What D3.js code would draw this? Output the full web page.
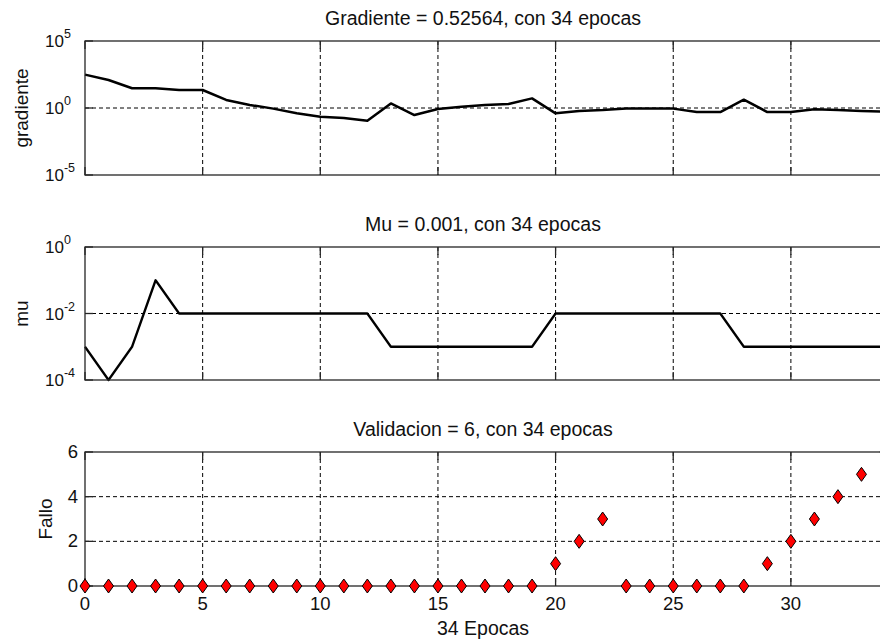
<!DOCTYPE html>
<html lang="es">
<head>
<meta charset="UTF-8">
<title>Entrenamiento - 34 epocas</title>
<script src="https://d3js.org/d3.v7.min.js"></script>
<style>
    body { margin: 0; background: #fff; }
    svg { display: block; }
    text { font-family: "Liberation Sans", Arial, sans-serif; fill: #111; }
</style>
</head>
<body>
<svg width="880" height="641"></svg>
<script>
// epochs 0..34
const epocas = [0,1,2,3,4,5,6,7,8,9,10,11,12,13,14,15,16,17,18,19,20,21,22,23,24,25,26,27,28,29,30,31,32,33,34];

// gradient per epoch (log axis)
const gradiente = [309, 123, 30, 30, 22, 22, 4.0, 1.7, 0.9, 0.4, 0.22, 0.18, 0.11, 2.2, 0.3,
    0.85, 1.25, 1.65, 2.0, 5.2, 0.4, 0.6, 0.7, 0.9, 0.9, 0.9, 0.5, 0.5, 4.2, 0.5,
    0.5, 0.8, 0.7, 0.6, 0.52564];

// mu per epoch (log axis)
const mu = [1e-3, 1e-4, 1e-3, 1e-1, 1e-2, 1e-2, 1e-2, 1e-2, 1e-2, 1e-2, 1e-2, 1e-2, 1e-2,
    1e-3, 1e-3, 1e-3, 1e-3, 1e-3, 1e-3, 1e-3, 1e-2, 1e-2, 1e-2, 1e-2, 1e-2, 1e-2, 1e-2, 1e-2,
    1e-3, 1e-3, 1e-3, 1e-3, 1e-3, 1e-3, 1e-3];

// validation fails per epoch
const fallo = [0,0,0,0,0,0,0,0,0,0,0,0,0,0,0,0,0,0,0,0,1,2,3,0,0,0,0,0,0,1,2,3,4,5,6];

const xTicks = [0, 5, 10, 15, 20, 25, 30];
const gradTicks = [-5, 0, 5];      // exponents
const muTicks = [-4, -2, 0];       // exponents
const falloTicks = [0, 2, 4, 6];

const titulos = ["Gradiente = 0.52564, con 34 epocas", "Mu = 0.001, con 34 epocas", "Validacion = 6, con 34 epocas"];
const etiquetasY = ["gradiente", "mu", "Fallo"];
const etiquetaX = "34 Epocas";

const svg = d3.select("svg");
const left = 85, right = 885;
const x = d3.scaleLinear().domain([0, 34]).range([left, right]);

const panels = [
    { top: 41, bottom: 175, y: d3.scaleLog().domain([1e-5, 1e5]), log: gradTicks, data: gradiente, lw: 2.5, labelX: 28 },
    { top: 247, bottom: 380, y: d3.scaleLog().domain([1e-4, 1]), log: muTicks, data: mu, lw: 2.3, labelX: 28 },
    { top: 452, bottom: 586, y: d3.scaleLinear().domain([0, 6]), lin: falloTicks, data: fallo, labelX: 52 }
];

const tickLen = 8;

panels.forEach((p, i) => {
    p.y.range([p.bottom, p.top]);
    const g = svg.append("g");
    const yVals = p.log ? p.log.map(e => Math.pow(10, e)) : p.lin;

    // grid
    g.selectAll(".gx").data(xTicks.filter(t => t > 0)).join("line")
        .attr("x1", d => x(d)).attr("x2", d => x(d))
        .attr("y1", p.top).attr("y2", p.bottom)
        .attr("stroke", "#000").attr("stroke-width", 1).attr("stroke-dasharray", "4,3");
    g.selectAll(".gy").data(yVals.filter(v => p.y(v) > p.top + 1 && p.y(v) < p.bottom - 1)).join("line")
        .attr("x1", left).attr("x2", right)
        .attr("y1", d => p.y(d)).attr("y2", d => p.y(d))
        .attr("stroke", "#000").attr("stroke-width", 1).attr("stroke-dasharray", "4,3");

    // tick marks (inside, all sides)
    xTicks.forEach(t => {
        g.append("line").attr("x1", x(t)).attr("x2", x(t)).attr("y1", p.bottom).attr("y2", p.bottom - tickLen)
            .attr("stroke", "#262626").attr("stroke-width", 1.3);
        g.append("line").attr("x1", x(t)).attr("x2", x(t)).attr("y1", p.top).attr("y2", p.top + tickLen)
            .attr("stroke", "#262626").attr("stroke-width", 1.3);
    });
    yVals.forEach(v => {
        g.append("line").attr("x1", left).attr("x2", left + tickLen).attr("y1", p.y(v)).attr("y2", p.y(v))
            .attr("stroke", "#262626").attr("stroke-width", 1.3);
    });

    // data
    if (i < 2) {
        g.append("path")
            .datum(epocas.map((e, k) => [e, p.data[k]]))
            .attr("fill", "none").attr("stroke", "#000").attr("stroke-width", p.lw)
            .attr("stroke-linejoin", "round")
            .attr("d", d3.line().x(d => x(d[0])).y(d => p.y(d[1])));
    }

    // box
    g.append("rect").attr("x", left).attr("y", p.top)
        .attr("width", right - left).attr("height", p.bottom - p.top)
        .attr("fill", "none").attr("stroke", "#262626").attr("stroke-width", 1.3);

    if (i === 2) {
        g.selectAll(".mk").data(epocas.map((e, k) => [e, p.data[k]])).join("path")
            .attr("transform", d => `translate(${x(d[0])},${p.y(d[1])})`)
            .attr("d", "M0,-7L5,0L0,7L-5,0Z")
            .attr("fill", "#ff0000").attr("stroke", "#000").attr("stroke-width", 1);
    }

    // y tick labels
    if (p.log) {
        p.log.forEach(e => {
            const t = g.append("text").attr("x", 45).attr("y", p.y(Math.pow(10, e)) + 6)
                .attr("font-size", 17).text("10");
            t.append("tspan").attr("dy", -9).attr("font-size", 12.5).text(e);
        });
    } else {
        p.lin.forEach(v => {
            g.append("text").attr("x", 78).attr("y", p.y(v) + 6)
                .attr("text-anchor", "end").attr("font-size", 18.5).text(v);
        });
    }

    // title
    g.append("text").attr("x", 483).attr("y", p.top - 16)
        .attr("text-anchor", "middle").attr("font-size", 19.5).text(titulos[i]);

    // y label
    g.append("text")
        .attr("transform", `translate(${p.labelX},${(p.top + p.bottom) / 2}) rotate(-90)`)
        .attr("text-anchor", "middle").attr("font-size", 19).text(etiquetasY[i]);
});

// x tick labels (bottom panel only)
const last = panels[2];
svg.append("g").selectAll("text").data(xTicks).join("text")
    .attr("x", d => x(d)).attr("y", last.bottom + 24)
    .attr("text-anchor", "middle").attr("font-size", 18.5).text(d => d);

svg.append("text").attr("x", 483).attr("y", 635)
    .attr("text-anchor", "middle").attr("font-size", 19.5).text(etiquetaX);
</script>
</body>
</html>
